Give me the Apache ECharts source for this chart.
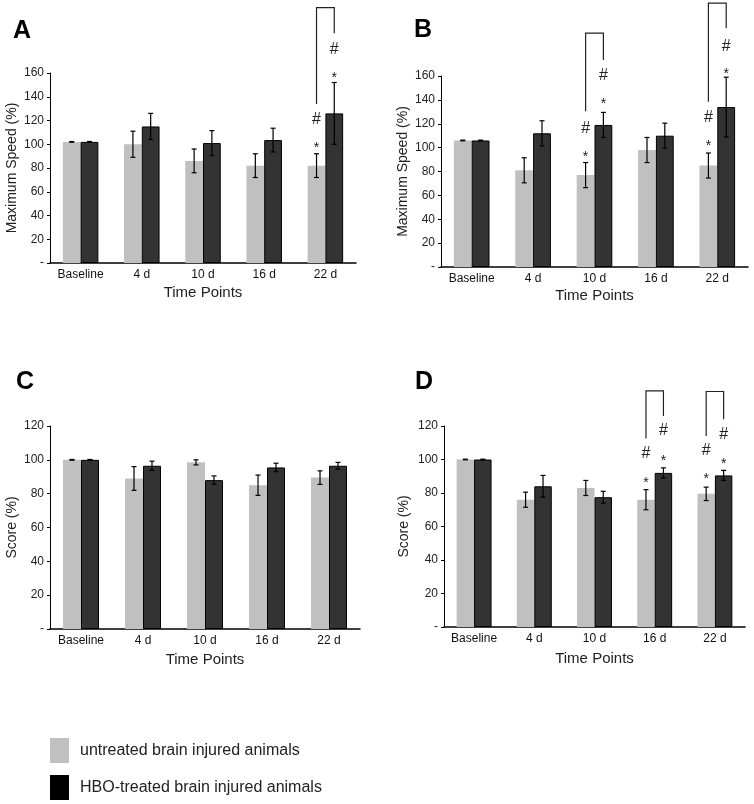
<!DOCTYPE html>
<html><head><meta charset="utf-8">
<script src="https://cdn.jsdelivr.net/npm/echarts@6/dist/echarts.min.js"></script>
<style>html,body{margin:0;padding:0;background:#fff}#c{width:754px;height:804px}</style>
</head><body><div id="c"></div>
<script>
// ---------- data ----------
const categories = ['Baseline', '4 d', '10 d', '16 d', '22 d'];
const seriesNames = ['untreated brain injured animals', 'HBO-treated brain injured animals'];

const untreatedA = [102, 100, 86, 82, 82];
const untreatedErrA = [0.3, 11, 10, 10, 10];
const hboA = [102, 115, 101, 103.5, 126];
const hboErrA = [0.3, 11, 10.5, 10, 26];

const untreatedB = [106, 81, 77, 98, 85];
const untreatedErrB = [0.3, 10.5, 10.5, 10.5, 10.5];
const hboB = [106, 112, 119, 110, 134];
const hboErrB = [0.3, 10.5, 10.5, 10.5, 25];

const untreatedC = [100, 89, 98.5, 85, 89.5];
const untreatedErrC = [0.2, 7, 1.5, 6, 4];
const hboC = [100, 96.5, 88, 95.5, 96.5];
const hboErrC = [0.2, 2.7, 2.5, 2.5, 2];

const untreatedD = [100, 76, 83, 76, 79.5];
const untreatedErrD = [0.2, 4.5, 4.5, 6, 4];
const hboD = [100, 84, 77.5, 92, 90.5];
const hboErrD = [0.2, 6.5, 3.5, 3, 3];

// significance marks: [category index, bar (0 untreated / 1 HBO), symbol, value height]
const marksA = [[4,0,'*',99],[4,0,'#',121],[4,1,'*',158],[4,1,'#',180]];
const marksB = [[2,0,'*',94.5],[2,0,'#',116],[2,1,'*',139],[2,1,'#',160],
                [4,0,'*',103.5],[4,0,'#',125],[4,1,'*',164],[4,1,'#',185]];
const marksC = [];
const marksD = [[3,0,'*',87.6],[3,0,'#',103.4],[3,1,'*',101],[3,1,'#',117],
                [4,0,'*',90],[4,0,'#',105.4],[4,1,'*',99],[4,1,'#',115]];
// brackets: [category index, left bottom, right bottom, top]
const bracketsA = [[4,134,193.5,215]];
const bracketsB = [[2,130.5,173.4,196],[4,138.4,200,221]];
const bracketsC = [];
const bracketsD = [[3,112.5,126,141],[4,114,124,140.6]];

const speedTicksMax = 160;
const scoreTicksMax = 120;

// ---------- layout / style ----------
const F = "'Liberation Sans', Arial, sans-serif";
const panels = [
  {letter:'A', yName:'Maximum Speed (%)', max:speedTicksMax, u:untreatedA, ue:untreatedErrA, h:hboA, he:hboErrA, marks:marksA, brackets:bracketsA},
  {letter:'B', yName:'Maximum Speed (%)', max:speedTicksMax, u:untreatedB, ue:untreatedErrB, h:hboB, he:hboErrB, marks:marksB, brackets:bracketsB},
  {letter:'C', yName:'Score (%)', max:scoreTicksMax, u:untreatedC, ue:untreatedErrC, h:hboC, he:hboErrC, marks:marksC, brackets:bracketsC},
  {letter:'D', yName:'Score (%)', max:scoreTicksMax, u:untreatedD, ue:untreatedErrD, h:hboD, he:hboErrD, marks:marksD, brackets:bracketsD}
];
const layout = [
  {left:50, top:73, width:306, height:190, yGap:31, xGap:22, lx:13, ly:31},
  {left:441, top:76, width:307, height:191, yGap:31, xGap:21, lx:414, ly:30},
  {left:50, top:426, width:310, height:203, yGap:31, xGap:23, lx:16, ly:382},
  {left:444, top:426, width:301, height:201, yGap:33, xGap:24, lx:415, ly:382}
];
const BAR_RATIO = 0.29;
const LIGHT = '#c0c0c0', DARK = '#333333';

const grid = [], xAxis = [], yAxis = [], series = [], graphic = [];

panels.forEach((p, i) => {
  const L = layout[i];
  grid.push({left:L.left, top:L.top, width:L.width, height:L.height});
  xAxis.push({
    type:'category', gridIndex:i, data:categories,
    name:'Time Points', nameLocation:'middle', nameGap:L.xGap,
    nameTextStyle:{fontSize:15, color:'#222', fontFamily:F},
    axisLine:{lineStyle:{color:'#000', width:1.5}},
    axisTick:{length:4, lineStyle:{color:'#000'}},
    axisLabel:{fontSize:12, color:'#111', margin:6, fontFamily:F}
  });
  yAxis.push({
    type:'value', gridIndex:i, min:0, max:p.max, interval:20,
    name:p.yName, nameLocation:'middle', nameRotate:90, nameGap:L.yGap,
    nameTextStyle:{fontSize:14, color:'#222', fontFamily:F},
    axisLine:{show:true, lineStyle:{color:'#000', width:1}},
    axisTick:{show:true, length:3, lineStyle:{color:'#000'}},
    splitLine:{show:false},
    axisLabel:{fontSize:12, color:'#222', margin:6, fontFamily:F,
      formatter: v => v === 0 ? '-' : String(v)}
  });
  series.push({type:'bar', name:seriesNames[0], xAxisIndex:i, yAxisIndex:i, data:p.u,
    barWidth:(BAR_RATIO*100)+'%', barGap:'0%', itemStyle:{color:LIGHT}, silent:true});
  series.push({type:'bar', name:seriesNames[1], xAxisIndex:i, yAxisIndex:i, data:p.h,
    barWidth:(BAR_RATIO*100)+'%', barGap:'0%', itemStyle:{color:DARK, borderColor:'#000', borderWidth:1}, silent:true});

  [0, 1].forEach(s => {
    const vals = s ? p.h : p.u, errs = s ? p.he : p.ue;
    series.push({
      type:'custom', xAxisIndex:i, yAxisIndex:i, z:5, silent:true, clip:false,
      data: vals.map((v, k) => [k, v, errs[k]]),
      renderItem: (params, api) => {
        const k = api.value(0), v = api.value(1), e = api.value(2);
        const bw = api.size([1, 0])[0] * BAR_RATIO;
        const c = api.coord([k, v]);
        const x = c[0] + (s ? bw / 2 : -bw / 2);
        const yT = api.coord([k, v + e])[1], yB = api.coord([k, v - e])[1];
        const cap = 2.5, st = {stroke:'#000', lineWidth:1.2};
        return {type:'group', children:[
          {type:'line', shape:{x1:x, y1:yT, x2:x, y2:yB}, style:st},
          {type:'line', shape:{x1:x-cap, y1:yT, x2:x+cap, y2:yT}, style:st},
          {type:'line', shape:{x1:x-cap, y1:yB, x2:x+cap, y2:yB}, style:st}
        ]};
      }
    });
  });

  if (p.marks.length) {
    series.push({
      type:'custom', xAxisIndex:i, yAxisIndex:i, z:6, silent:true, clip:false,
      data: p.marks.map(m => [m[0], m[3]]),
      renderItem: (params, api) => {
        const m = p.marks[params.dataIndex];
        const bw = api.size([1, 0])[0] * BAR_RATIO;
        const c = api.coord([api.value(0), api.value(1)]);
        const x = c[0] + (m[1] ? bw / 2 : -bw / 2);
        const star = m[2] === '*';
        return {type:'text', x:x, y:c[1] + (star ? 3 : 0),
          style:{text:m[2], fill:'#222', font: (star ? '14px ' : '16px ') + F,
            align:'center', verticalAlign:'middle'}};
      }
    });
  }
  if (p.brackets.length) {
    series.push({
      type:'custom', xAxisIndex:i, yAxisIndex:i, z:6, silent:true, clip:false,
      data: p.brackets.map(b => [b[0], b[1], b[2], b[3]]),
      renderItem: (params, api) => {
        const k = api.value(0);
        const bw = api.size([1, 0])[0] * BAR_RATIO;
        const cx = api.coord([k, 0])[0];
        const xl = cx - bw / 2, xr = cx + bw / 2;
        const yl = api.coord([k, api.value(1)])[1];
        const yr = api.coord([k, api.value(2)])[1];
        const yt = api.coord([k, api.value(3)])[1];
        return {type:'polyline', shape:{points:[[xl, yl], [xl, yt], [xr, yt], [xr, yr]]},
          style:{stroke:'#222', lineWidth:1.2, fill:null}};
      }
    });
  }

  graphic.push({type:'text', left:L.lx, top:L.ly - 12,
    style:{text:p.letter, font:'bold 25px ' + F, fill:'#000'}});
});

const chart = echarts.init(document.getElementById('c'), null, {renderer:'canvas'});
chart.setOption({
  animation:false,
  backgroundColor:'#fff',
  grid, xAxis, yAxis, series, graphic,
  legend:{
    left:50, top:738, orient:'vertical', icon:'rect', itemWidth:19, itemHeight:25, itemGap:12,
    padding:0, selectedMode:false,
    textStyle:{fontSize:16, color:'#222', fontFamily:F, padding:[0,0,0,6]},
    data:[
      {name:seriesNames[0], itemStyle:{color:LIGHT, borderWidth:0}},
      {name:seriesNames[1], itemStyle:{color:'#000', borderWidth:0}}
    ]
  }
});
</script>
</body></html>
